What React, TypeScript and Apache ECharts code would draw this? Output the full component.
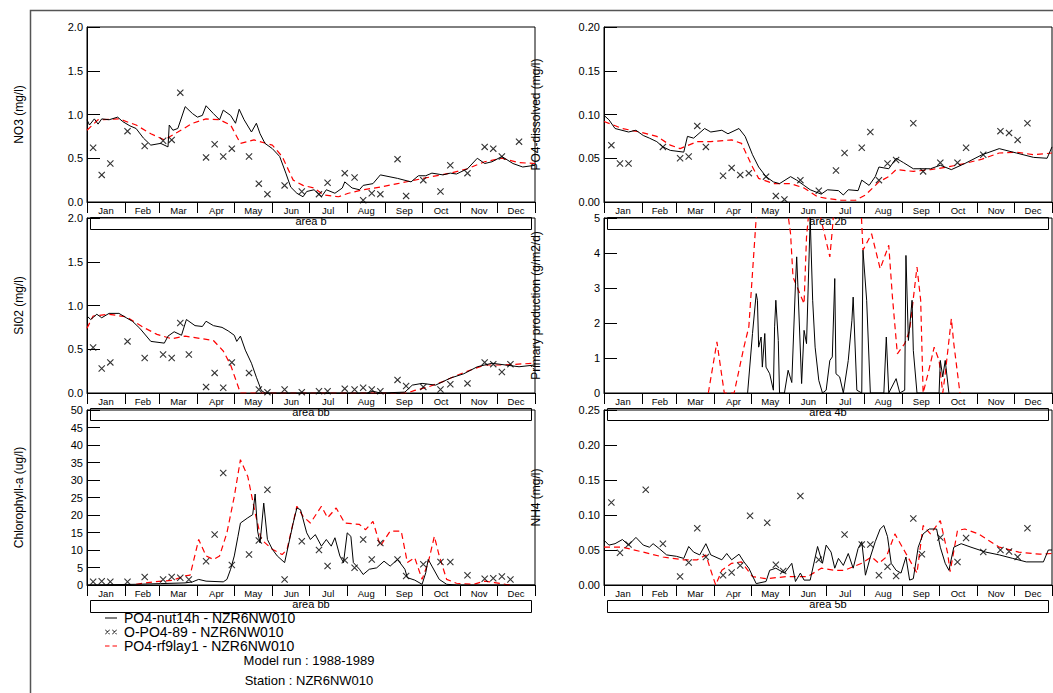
import React, { useEffect, useRef } from 'react';
import * as echarts from 'echarts';

const months = ['Jan', 'Feb', 'Mar', 'Apr', 'May', 'Jun', 'Jul', 'Aug', 'Sep', 'Oct', 'Nov', 'Dec'];
const monthDays = [31, 28, 31, 30, 31, 30, 31, 31, 30, 31, 30, 31];

const BLACK = 'PO4-nut14h - NZR6NW010';
const OBS = 'O-PO4-89 - NZR6NW010';
const RED = 'PO4-rf9lay1 - NZR6NW010';

// ---- NO3 (mg/l)
const no3Nut = [[0,0.94],[2,0.88],[6,0.95],[9,0.89],[12,0.95],[18,0.94],[25,0.97],[29,0.92],[35,0.87],[40,0.84],[46,0.73],[52,0.65],[60,0.67],[66,0.63],[67,0.88],[70,0.82],[74,0.84],[80,1.09],[86,1.01],[90,0.97],[94,0.99],[97,1.10],[103,1.01],[108,0.94],[111,1.05],[117,0.99],[121,0.90],[124,1.06],[128,0.94],[134,0.80],[138,0.90],[141,0.78],[145,0.67],[151,0.61],[157,0.52],[162,0.33],[166,0.17],[171,0.10],[176,0.06],[179,0.12],[185,0.14],[191,0.06],[195,0.14],[202,0.10],[208,0.16],[210,0.23],[216,0.16],[222,0.14],[225,0.19],[233,0.21],[239,0.31],[253,0.27],[264,0.23],[270,0.30],[276,0.30],[281,0.33],[290,0.31],[296,0.33],[301,0.32],[310,0.38],[318,0.50],[324,0.44],[330,0.46],[338,0.52],[347,0.44],[355,0.40],[365,0.42]];
const no3Rf9 = [[0,0.82],[9,0.94],[26,0.95],[40,0.88],[52,0.78],[63,0.71],[74,0.80],[86,0.90],[97,0.95],[108,0.94],[117,0.88],[125,0.67],[136,0.71],[151,0.65],[159,0.52],[168,0.25],[176,0.19],[185,0.16],[193,0.08],[205,0.06],[213,0.10],[225,0.14],[239,0.17],[253,0.21],[267,0.25],[281,0.29],[296,0.33],[310,0.38],[324,0.46],[338,0.50],[352,0.45],[365,0.44]];
const no3Obs = [[5,0.62],[12,0.31],[19,0.44],[33,0.81],[47,0.64],[62,0.70],[69,0.71],[76,1.25],[97,0.51],[104,0.66],[111,0.52],[118,0.61],[132,0.52],[140,0.21],[147,0.09],[161,0.19],[175,0.12],[189,0.09],[196,0.22],[210,0.33],[218,0.28],[225,0.02],[232,0.10],[239,0.09],[253,0.49],[260,0.07],[274,0.25],[288,0.12],[296,0.42],[310,0.33],[324,0.63],[331,0.61],[338,0.52],[352,0.69]];

// ---- PO4-dissolved (mg/l)
const po4Nut = [[0,0.099],[4,0.094],[9,0.084],[20,0.080],[26,0.082],[32,0.076],[37,0.073],[43,0.069],[48,0.063],[54,0.059],[65,0.057],[68,0.075],[73,0.073],[82,0.084],[87,0.080],[96,0.082],[101,0.078],[110,0.084],[115,0.075],[121,0.054],[126,0.040],[132,0.029],[138,0.023],[143,0.021],[152,0.029],[157,0.025],[163,0.019],[168,0.014],[177,0.009],[182,0.014],[191,0.013],[195,0.008],[199,0.014],[207,0.013],[210,0.025],[216,0.019],[221,0.029],[224,0.040],[232,0.038],[238,0.050],[244,0.045],[252,0.038],[266,0.038],[274,0.042],[283,0.037],[294,0.044],[308,0.054],[322,0.061],[336,0.056],[350,0.051],[361,0.050],[365,0.063]];
const po4Rf9 = [[0,0.092],[15,0.084],[29,0.080],[43,0.075],[54,0.065],[62,0.061],[76,0.069],[87,0.069],[104,0.071],[112,0.067],[121,0.040],[126,0.027],[138,0.021],[152,0.021],[163,0.016],[174,0.006],[182,0.004],[193,0.002],[205,0.002],[213,0.008],[224,0.023],[232,0.029],[238,0.037],[252,0.035],[266,0.037],[280,0.040],[294,0.044],[308,0.049],[322,0.056],[336,0.057],[350,0.054],[365,0.056]];
const po4Obs = [[6,0.065],[13,0.044],[20,0.044],[48,0.063],[62,0.050],[69,0.052],[76,0.087],[83,0.063],[97,0.030],[104,0.039],[111,0.031],[118,0.033],[132,0.029],[140,0.007],[147,0.003],[160,0.025],[175,0.013],[189,0.036],[196,0.056],[210,0.062],[217,0.080],[224,0.025],[231,0.044],[238,0.048],[252,0.090],[260,0.035],[274,0.045],[288,0.045],[295,0.062],[309,0.054],[323,0.081],[330,0.079],[337,0.071],[345,0.090]];

// ---- SiO2 (mg/l)
const sioNut = [[0,0.88],[3,0.84],[8,0.90],[12,0.86],[18,0.91],[26,0.91],[32,0.86],[37,0.82],[43,0.74],[52,0.59],[63,0.57],[66,0.65],[71,0.70],[77,0.66],[81,0.84],[88,0.77],[94,0.76],[97,0.82],[103,0.77],[110,0.75],[115,0.71],[120,0.66],[122,0.59],[125,0.65],[129,0.49],[134,0.34],[138,0.18],[142,0.03],[145,0],[228,0],[233,0.02],[239,0],[259,0.01],[265,0.09],[273,0.11],[284,0.09],[296,0.17],[307,0.22],[318,0.30],[330,0.34],[341,0.32],[352,0.30],[365,0.32]];
const sioRf9 = [[0,0.74],[5,0.88],[18,0.90],[32,0.87],[46,0.75],[57,0.67],[69,0.62],[80,0.65],[94,0.62],[103,0.60],[111,0.48],[117,0.32],[122,0.12],[125,0],[261,0],[267,0.03],[278,0.07],[290,0.13],[301,0.20],[312,0.26],[324,0.32],[338,0.32],[365,0.34]];
const sioObs = [[5,0.52],[12,0.28],[19,0.35],[33,0.59],[47,0.40],[62,0.44],[69,0.40],[76,0.80],[83,0.44],[97,0.07],[104,0.23],[111,0.06],[118,0.35],[132,0.23],[140,0.04],[147,0.01],[161,0.04],[175,0.01],[189,0.02],[196,0.02],[210,0.05],[218,0.04],[225,0.06],[232,0.04],[239,0.02],[253,0.15],[260,0.08],[274,0.07],[288,0.04],[296,0.10],[310,0.11],[324,0.35],[331,0.33],[338,0.24],[345,0.33]];

// ---- Primary production (g/m2/d)
const ppNut = [[117,0],[121,1.7],[124,2.84],[125,2.65],[126,1.31],[128,1.6],[129,0.74],[131,1.70],[132,0.74],[135,0.55],[138,0.08],[139,1.89],[140,2.65],[142,1.5],[143,0],[147,0],[150,0.65],[153,0.3],[156,3.12],[157,3.89],[158,3.03],[161,0.27],[163,1.79],[165,1.41],[168,5.0],[170,2.65],[172,1.31],[175,0.36],[178,0],[181,0.08],[184,0.93],[186,1.03],[188,3.27],[189,0.55],[192,0.46],[195,0],[199,0.93],[202,2.08],[203,2.74],[206,0.08],[210,0],[211,4.08],[214,2.65],[217,0],[228,0],[230,1.6],[232,0],[238,0.41],[241,0],[245,0.08],[246,3.93],[248,1.5],[251,2.65],[252,1.22],[255,0],[273,0],[274,0.93],[276,0.46],[278,0.93],[281,0]];
const ppRf9 = [[85,0],[92,1.46],[98,0],[106,0],[114,1.31],[118,1.89],[124,5.0],[126,5.6],[148,5.6],[152,4.55],[154,3.31],[163,2.55],[165,4.46],[168,5.6],[174,5.6],[177,4.93],[184,3.89],[186,4.65],[188,5.6],[209,5.6],[211,4.08],[218,4.55],[225,3.55],[232,4.22],[235,2.74],[239,1.12],[245,1.41],[249,1.79],[255,3.60],[258,2.65],[260,0],[264,0.55],[269,1.31],[273,0.93],[276,0],[278,0.55],[283,2.12],[285,1.41],[290,0]];
const ppObs: number[][] = [];

// ---- Chlorophyll-a (ug/l)
const chlNut = [[0,0],[40,0.2],[60,0.4],[80,0.6],[86,0.9],[91,1.6],[97,1.1],[111,0.9],[114,1.6],[117,4.5],[120,8.3],[123,13.9],[125,17.7],[131,19.2],[135,20.1],[137,26.0],[139,15.4],[141,12.0],[144,23.4],[147,13.0],[151,10.2],[155,8.3],[161,6.4],[168,17.7],[171,22.0],[174,21.5],[179,14.9],[182,13.0],[186,14.4],[191,11.1],[195,13.0],[199,11.1],[202,13.5],[206,8.3],[209,6.4],[212,14.9],[215,13.9],[217,6.4],[222,4.5],[225,3.0],[230,4.5],[236,4.9],[242,6.8],[247,5.4],[253,7.3],[259,4.5],[261,2.1],[267,1.4],[273,0.2],[276,3.5],[278,7.3],[281,5.4],[287,1.6],[293,0.2],[301,0],[365,0]];
const chlRf9 = [[40,0.2],[54,0.9],[69,1.3],[80,2.6],[84,2.8],[91,13.0],[97,8.3],[103,7.3],[108,8.3],[114,14.9],[120,25.3],[125,35.8],[131,31.0],[137,20.6],[142,13.0],[151,10.2],[159,8.7],[163,10.2],[171,22.5],[176,19.6],[182,17.7],[191,22.5],[196,19.2],[203,22.0],[210,17.7],[222,17.3],[227,15.8],[233,18.2],[239,11.1],[247,15.4],[256,15.4],[261,6.4],[267,7.8],[273,1.6],[278,6.4],[283,13.9],[287,8.3],[293,1.6],[301,0.5],[315,0.2],[324,1.1],[332,0.7],[341,0.2],[347,0]];
const chlObs = [[5,0.9],[12,1.1],[19,0.9],[33,0.9],[47,2.3],[62,1.6],[69,2.3],[76,2.1],[83,1.6],[97,6.8],[104,14.4],[111,32.0],[118,5.7],[132,8.7],[140,12.7],[147,27.2],[161,1.6],[175,12.5],[189,10.0],[196,5.4],[210,7.1],[218,4.9],[225,13.0],[232,7.3],[239,12.0],[253,7.3],[260,2.6],[274,5.9],[288,6.6],[296,6.6],[310,2.8],[324,1.8],[331,1.9],[338,2.4],[345,1.6]];

// ---- NH4 (mg/l)
const nh4Nut = [[0,0.064],[4,0.057],[9,0.059],[15,0.065],[20,0.057],[26,0.068],[32,0.057],[37,0.054],[40,0.059],[45,0.052],[51,0.043],[59,0.041],[65,0.038],[69,0.055],[73,0.047],[78,0.043],[83,0.059],[87,0.043],[96,0.036],[100,0.045],[104,0.036],[110,0.044],[114,0.033],[118,0.024],[124,0.002],[132,0.005],[135,0.021],[140,0.024],[147,0.017],[153,0.031],[156,0.005],[160,0.017],[163,0.007],[168,0.007],[174,0.055],[178,0.031],[181,0.057],[185,0.047],[188,0.024],[191,0.038],[195,0.028],[199,0.045],[203,0.024],[207,0.052],[210,0.062],[213,0.014],[217,0.040],[221,0.062],[225,0.080],[228,0.085],[231,0.069],[234,0.031],[238,0.021],[242,0.017],[246,0.040],[249,0.007],[252,0.009],[256,0.054],[260,0.073],[265,0.080],[271,0.080],[274,0.054],[278,0.031],[281,0.021],[285,0.054],[291,0.059],[299,0.054],[311,0.047],[322,0.043],[333,0.038],[344,0.033],[358,0.033],[362,0.050],[365,0.050]];
const nh4Rf9 = [[0,0.054],[15,0.054],[32,0.047],[48,0.040],[65,0.036],[76,0.036],[83,0.043],[87,0.021],[91,0],[96,0.021],[104,0.031],[112,0.033],[121,0.012],[132,0.009],[149,0.012],[166,0.012],[177,0.024],[188,0.021],[196,0.021],[210,0.031],[218,0.040],[224,0.031],[230,0.040],[237,0.073],[246,0.045],[255,0.017],[260,0.085],[266,0.073],[274,0.092],[280,0.045],[282,0.019],[288,0.078],[294,0.080],[305,0.073],[322,0.054],[338,0.047],[355,0.044],[365,0.045]];
const nh4Obs = [[6,0.118],[13,0.046],[20,0.058],[34,0.136],[48,0.059],[62,0.012],[69,0.032],[76,0.081],[83,0.040],[97,0.014],[104,0.018],[111,0.028],[119,0.099],[133,0.089],[140,0.029],[146,0.020],[160,0.127],[175,0.036],[196,0.072],[210,0.058],[217,0.058],[224,0.014],[231,0.026],[238,0.013],[252,0.095],[259,0.044],[274,0.068],[288,0.033],[295,0.067],[309,0.047],[323,0.050],[330,0.048],[337,0.040],[345,0.081]];

const FONT = "'Liberation Sans', Arial, Helvetica, sans-serif";
const LEFTS = [87, 604];
const TOPS = [27, 218, 410];
const PW = 448;
const PH = 175;
const XMARK = 'path://M0,0.55L0.55,0L5,4.45L4.45,5ZM0,4.45L4.45,0L5,0.55L0.55,5Z';
const XXICON = 'path://M0,0M14,10M1,3.1L1.6,2.5L6,6.9L5.4,7.5ZM1,6.9L5.4,2.5L6,3.1L1.6,7.5ZM8,3.1L8.6,2.5L13,6.9L12.4,7.5ZM8,6.9L12.4,2.5L13,3.1L8.6,7.5Z';
const LINEICON = 'path://M0,0M14,10M1,4.5H13V5.5H1Z';
const DASHICON = 'path://M0,0M14,10M1,4.4H5.5V5.6H1ZM8.5,4.4H13V5.6H8.5Z';

const panels = [
  { col: 0, row: 0, yName: 'NO3 (mg/l)', max: 2, interval: 0.5, dec: 1, black: no3Nut, red: no3Rf9, obs: no3Obs, box: 'area b' },
  { col: 1, row: 0, yName: 'PO4-dissolved (mg/l)', max: 0.2, interval: 0.05, dec: 2, black: po4Nut, red: po4Rf9, obs: po4Obs, box: 'area 2b' },
  { col: 0, row: 1, yName: 'SI02 (mg/l)', max: 2, interval: 0.5, dec: 1, black: sioNut, red: sioRf9, obs: sioObs, box: 'area bb' },
  { col: 1, row: 1, yName: 'Primary production (g/m2/d)', max: 5, interval: 1, dec: 0, black: ppNut, red: ppRf9, obs: ppObs, box: 'area 4b' },
  { col: 0, row: 2, yName: 'Chlorophyll-a (ug/l)', max: 50, interval: 5, dec: 0, black: chlNut, red: chlRf9, obs: chlObs, box: 'area bb' },
  { col: 1, row: 2, yName: 'NH4 (mg/l)', max: 0.25, interval: 0.05, dec: 2, black: nh4Nut, red: nh4Rf9, obs: nh4Obs, box: 'area 5b' },
];

function buildOption() {
  const dayCats: string[] = [];
  const monthStart = new Set<number>();
  const monthMid = new Set<number>();
  let acc = 0;
  months.forEach((m, i) => {
    monthStart.add(acc);
    monthMid.add(acc + Math.floor(monthDays[i] / 2));
    for (let d = 0; d < monthDays[i]; d++) dayCats.push(m);
    acc += monthDays[i];
  });

  const grid: any[] = [];
  const xAxis: any[] = [];
  const yAxis: any[] = [];
  const series: any[] = [];
  const graphic: any[] = [];

  graphic.push({
    type: 'rect', silent: true, z: 0,
    shape: { x: 30.5, y: 10.5, width: 1100, height: 800 },
    style: { fill: 'none', stroke: '#555', lineWidth: 1.5 },
  });

  panels.forEach((p, i) => {
    const left = LEFTS[p.col];
    const top = TOPS[p.row];
    grid.push({ left, top, width: PW, height: PH, show: true, borderColor: '#000', borderWidth: 1, backgroundColor: 'transparent' });
    xAxis.push({
      gridIndex: i, type: 'value', min: 0, max: 365, position: 'bottom',
      axisLine: { show: false }, axisTick: { show: false }, axisLabel: { show: false }, splitLine: { show: false },
    });
    xAxis.push({
      gridIndex: i, type: 'category', data: dayCats, position: 'bottom', boundaryGap: true,
      axisLine: { show: true, lineStyle: { color: '#000', width: 1 } },
      axisTick: { show: true, length: 11, inside: false, interval: (idx: number) => monthStart.has(idx), lineStyle: { color: '#000', width: 1 } },
      axisLabel: { show: true, interval: (idx: number) => monthMid.has(idx), color: '#000', fontSize: 9.5, fontFamily: FONT, margin: 3 },
      splitLine: { show: false },
    });
    yAxis.push({
      gridIndex: i, type: 'value', min: 0, max: p.max, interval: p.interval,
      axisLine: { show: true, lineStyle: { color: '#000' } },
      axisTick: { show: true, inside: true, length: 13, lineStyle: { color: '#000' } },
      axisLabel: { color: '#000', fontSize: 11, fontFamily: FONT, margin: 4, formatter: (v: number) => v.toFixed(p.dec) },
      splitLine: { show: false },
      name: p.yName, nameLocation: 'middle', nameGap: 62, nameRotate: 90,
      nameTextStyle: { color: '#000', fontSize: 12, fontFamily: FONT },
    });
    series.push({
      type: 'line', name: BLACK, xAxisIndex: 2 * i, yAxisIndex: i, data: p.black,
      symbol: 'none', showSymbol: false, lineStyle: { color: '#000', width: 1 }, itemStyle: { color: '#000' }, z: 3, clip: true,
    });
    series.push({
      type: 'line', name: RED, xAxisIndex: 2 * i, yAxisIndex: i, data: p.red,
      symbol: 'none', showSymbol: false, lineStyle: { color: '#ff0000', width: 1.2, type: [6, 4] }, itemStyle: { color: '#ff0000' }, z: 2, clip: true,
    });
    series.push({
      type: 'scatter', name: OBS, xAxisIndex: 2 * i, yAxisIndex: i, data: p.obs,
      symbol: XMARK, symbolSize: 7, itemStyle: { color: '#000' }, z: 4,
    });
    const boxY = top + PH + 15;
    graphic.push({
      type: 'rect', silent: true, z: 1,
      shape: { x: left + 3.5, y: boxY + 0.5, width: 441, height: 12 },
      style: { fill: 'none', stroke: '#000', lineWidth: 1 },
    });
    graphic.push({
      type: 'text', silent: true, z: 5, x: left + PW / 2, y: boxY + 4,
      style: { text: p.box, fill: '#000', font: `11px ${FONT}`, textAlign: 'center', textVerticalAlign: 'middle' },
    });
  });

  graphic.push({
    type: 'text', silent: true, x: 309, y: 660,
    style: { text: 'Model run : 1988-1989', fill: '#000', font: `13px ${FONT}`, textAlign: 'center', textVerticalAlign: 'middle' },
  });
  graphic.push({
    type: 'text', silent: true, x: 309, y: 680,
    style: { text: 'Station : NZR6NW010', fill: '#000', font: `13px ${FONT}`, textAlign: 'center', textVerticalAlign: 'middle' },
  });

  return {
    animation: false,
    backgroundColor: '#fff',
    textStyle: { fontFamily: FONT },
    grid, xAxis, yAxis, series, graphic,
    legend: {
      orient: 'vertical', left: 104, top: 611, itemWidth: 16, itemHeight: 10, itemGap: 0, padding: 0,
      selectedMode: false,
      textStyle: { fontSize: 14, color: '#000', fontFamily: FONT, lineHeight: 12 },
      data: [
        { name: BLACK, icon: LINEICON, itemStyle: { color: '#000' } },
        { name: OBS, icon: XXICON, itemStyle: { color: '#000' } },
        { name: RED, icon: DASHICON, itemStyle: { color: '#ff0000' } },
      ],
    },
  };
}

export default function App() {
  const ref = useRef<HTMLDivElement>(null);
  useEffect(() => {
    document.body.style.margin = '0';
    const chart = echarts.init(ref.current!, null, { renderer: 'svg' });
    chart.setOption(buildOption() as any);
    return () => chart.dispose();
  }, []);
  return <div ref={ref} style={{ position: 'absolute', left: 0, top: 0, width: 1053, height: 693 }} />;
}
